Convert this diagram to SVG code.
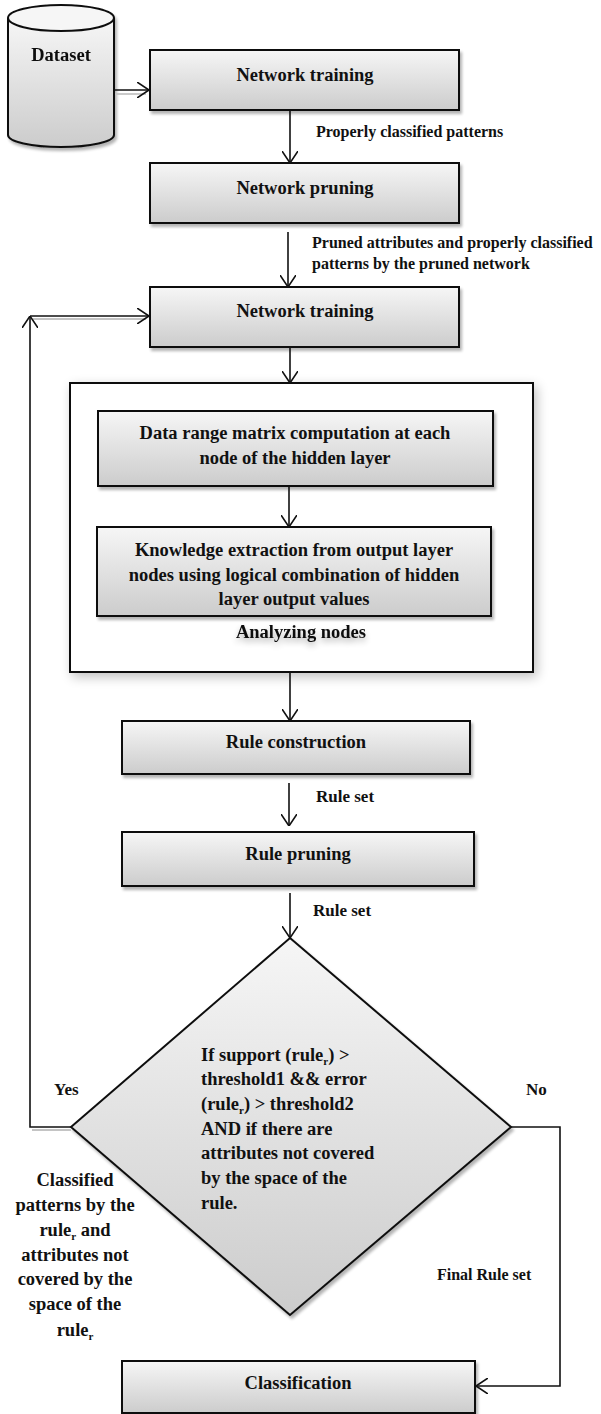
<svg xmlns="http://www.w3.org/2000/svg" width="601" height="1414" viewBox="0 0 601 1414">
<defs>
<style>
text{font-family:"Liberation Serif","Times New Roman",serif;font-weight:bold;fill:#111}
.bt{font-size:18.5px;text-anchor:middle}
.lb{font-size:16px}
.dt{font-size:18.5px}
.box{fill:url(#g);stroke:#111;stroke-width:2}
.ln{fill:none;stroke:#111;stroke-width:1.6}
.shl{fill:none;stroke:#c4c4c4;stroke-width:1.8}
</style>
<linearGradient id="g" x1="0" y1="0" x2="0" y2="1">
<stop offset="0" stop-color="#f6f6f6"/>
<stop offset="1" stop-color="#cccccc"/>
</linearGradient>
<filter id="sh" x="-5%" y="-10%" width="115%" height="135%">
<feGaussianBlur in="SourceAlpha" stdDeviation="1.5"/>
<feOffset dx="2" dy="3" result="o"/>
<feComponentTransfer><feFuncA type="linear" slope="0.3"/></feComponentTransfer>
<feMerge><feMergeNode/><feMergeNode in="SourceGraphic"/></feMerge>
</filter>
<filter id="glow" x="-10%" y="-10%" width="125%" height="125%">
<feGaussianBlur in="SourceAlpha" stdDeviation="6"/>
<feOffset dx="3" dy="4"/>
<feComponentTransfer><feFuncA type="linear" slope="0.25"/></feComponentTransfer>
<feMerge><feMergeNode/><feMergeNode in="SourceGraphic"/></feMerge>
</filter>
<filter id="tsh" x="-10%" y="-50%" width="120%" height="220%">
<feGaussianBlur in="SourceAlpha" stdDeviation="3"/>
<feOffset dx="0" dy="4"/>
<feComponentTransfer><feFuncA type="linear" slope="0.3"/></feComponentTransfer>
<feMerge><feMergeNode/><feMergeNode in="SourceGraphic"/></feMerge>
</filter>
<marker id="ah" viewBox="0 0 12 16" refX="12" refY="8" markerWidth="12" markerHeight="16" markerUnits="userSpaceOnUse" orient="auto">
<path d="M0,0 L12,8 L0,16" fill="none" stroke="#111" stroke-width="1.6"/>
</marker>
</defs>

<g id="dataset" filter="url(#sh)">
<path d="M8,18 L8,135 A53,12 0 0 0 114,135 L114,18" fill="url(#g)" stroke="#111" stroke-width="2"/>
<ellipse cx="61" cy="18" rx="53" ry="13" fill="#f6f6f6" stroke="#111" stroke-width="2"/>
<text x="61" y="61" class="bt">Dataset</text>
</g>

<g id="net-train-1"><rect x="150" y="50" width="309" height="60" class="box" filter="url(#sh)"/><text x="305" y="81" class="bt">Network training</text></g>
<g id="net-prune"><rect x="150" y="163" width="309" height="60" class="box" filter="url(#sh)"/><text x="305" y="194" class="bt">Network pruning</text></g>
<g id="net-train-2"><rect x="150" y="287" width="309" height="60" class="box" filter="url(#sh)"/><text x="305" y="317" class="bt">Network training</text></g>

<g id="analyzing">
<rect x="70" y="383" width="463" height="289" fill="#fff" stroke="#111" stroke-width="2" filter="url(#glow)"/>
<text x="301" y="638" class="bt" filter="url(#tsh)">Analyzing nodes</text>
</g>
<g id="data-range"><rect x="98" y="411" width="395" height="75" class="box" filter="url(#sh)"/>
<text x="295" y="439" class="bt">Data range matrix computation at each</text>
<text x="295" y="464" class="bt">node of the hidden layer</text></g>
<g id="knowledge"><rect x="97" y="527" width="394" height="89" class="box" filter="url(#sh)"/>
<text x="294" y="556" class="bt">Knowledge extraction from output layer</text>
<text x="294" y="581" class="bt">nodes using logical combination of hidden</text>
<text x="294" y="605" class="bt">layer output values</text></g>

<g id="rule-construction"><rect x="122" y="721" width="348" height="53" class="box" filter="url(#sh)"/><text x="296" y="748" class="bt">Rule construction</text></g>
<g id="rule-pruning"><rect x="122" y="832" width="352" height="54" class="box" filter="url(#sh)"/><text x="298" y="860" class="bt">Rule pruning</text></g>

<g id="decision">
<path d="M290,938 L511,1127 L290,1315 L71,1127 Z" fill="url(#g)" stroke="#111" stroke-width="2" filter="url(#sh)"/>
<text x="201" y="1061" class="dt">If support (rule<tspan font-size="11" dy="4">r</tspan><tspan dy="-4">) &gt;</tspan></text>
<text x="201" y="1085" class="dt">threshold1 &amp;&amp; error</text>
<text x="201" y="1110" class="dt">(rule<tspan font-size="11" dy="4">r</tspan><tspan dy="-4">) &gt; threshold2</tspan></text>
<text x="201" y="1135" class="dt">AND if there are</text>
<text x="201" y="1159" class="dt">attributes not covered</text>
<text x="201" y="1184" class="dt">by the space of the</text>
<text x="201" y="1209" class="dt">rule.</text>
</g>

<g id="classification"><rect x="122" y="1361" width="353" height="52" class="box" filter="url(#sh)"/><text x="298" y="1389" class="bt">Classification</text></g>

<g id="connectors">
<line x1="115" y1="94" x2="146" y2="94" class="shl"/>
<line x1="115" y1="90" x2="149" y2="90" class="ln" marker-end="url(#ah)"/>
<line x1="290" y1="110" x2="290" y2="163" class="ln" marker-end="url(#ah)"/>
<line x1="288" y1="232" x2="288" y2="287" class="ln" marker-end="url(#ah)"/>
<line x1="290" y1="347" x2="290" y2="383" class="ln" marker-end="url(#ah)"/>
<line x1="289" y1="486" x2="289" y2="527" class="ln" marker-end="url(#ah)"/>
<line x1="290" y1="672" x2="290" y2="721" class="ln" marker-end="url(#ah)"/>
<line x1="289" y1="783" x2="289" y2="826" class="ln" marker-end="url(#ah)"/>
<line x1="290" y1="893" x2="290" y2="938" class="ln" marker-end="url(#ah)"/>
<path d="M71,1130 L32,1130 M33,319 L146,319" class="shl"/>
<path d="M71,1127 L30,1127 L30,316" class="ln" marker-end="url(#ah)"/>
<path d="M30,316 L149,316" class="ln" marker-end="url(#ah)"/>
<path d="M511,1127 L560,1127 L560,1386 L476,1386" class="ln" marker-end="url(#ah)"/>
</g>

<g id="labels">
<text x="316" y="137" class="lb">Properly classified patterns</text>
<text x="312" y="248" class="lb">Pruned attributes and properly classified</text>
<text x="312" y="269" class="lb">patterns by the pruned network</text>
<text x="316" y="802" class="lb" style="font-size:17px">Rule set</text>
<text x="313" y="916" class="lb" style="font-size:17px">Rule set</text>
<text x="54" y="1095" class="lb" style="font-size:17px">Yes</text>
<text x="526" y="1095" class="lb" style="font-size:17px">No</text>
<text x="437" y="1280" class="lb">Final Rule set</text>
<g style="font-size:18.5px;text-anchor:middle">
<text x="75" y="1186">Classified</text>
<text x="75" y="1211">patterns by the</text>
<text x="75" y="1236">rule<tspan font-size="11" dy="4">r</tspan><tspan dy="-4"> and</tspan></text>
<text x="75" y="1261">attributes not</text>
<text x="75" y="1285">covered by the</text>
<text x="75" y="1310">space of the</text>
<text x="75" y="1336">rule<tspan font-size="11" dy="4">r</tspan></text>
</g>
</g>
</svg>
